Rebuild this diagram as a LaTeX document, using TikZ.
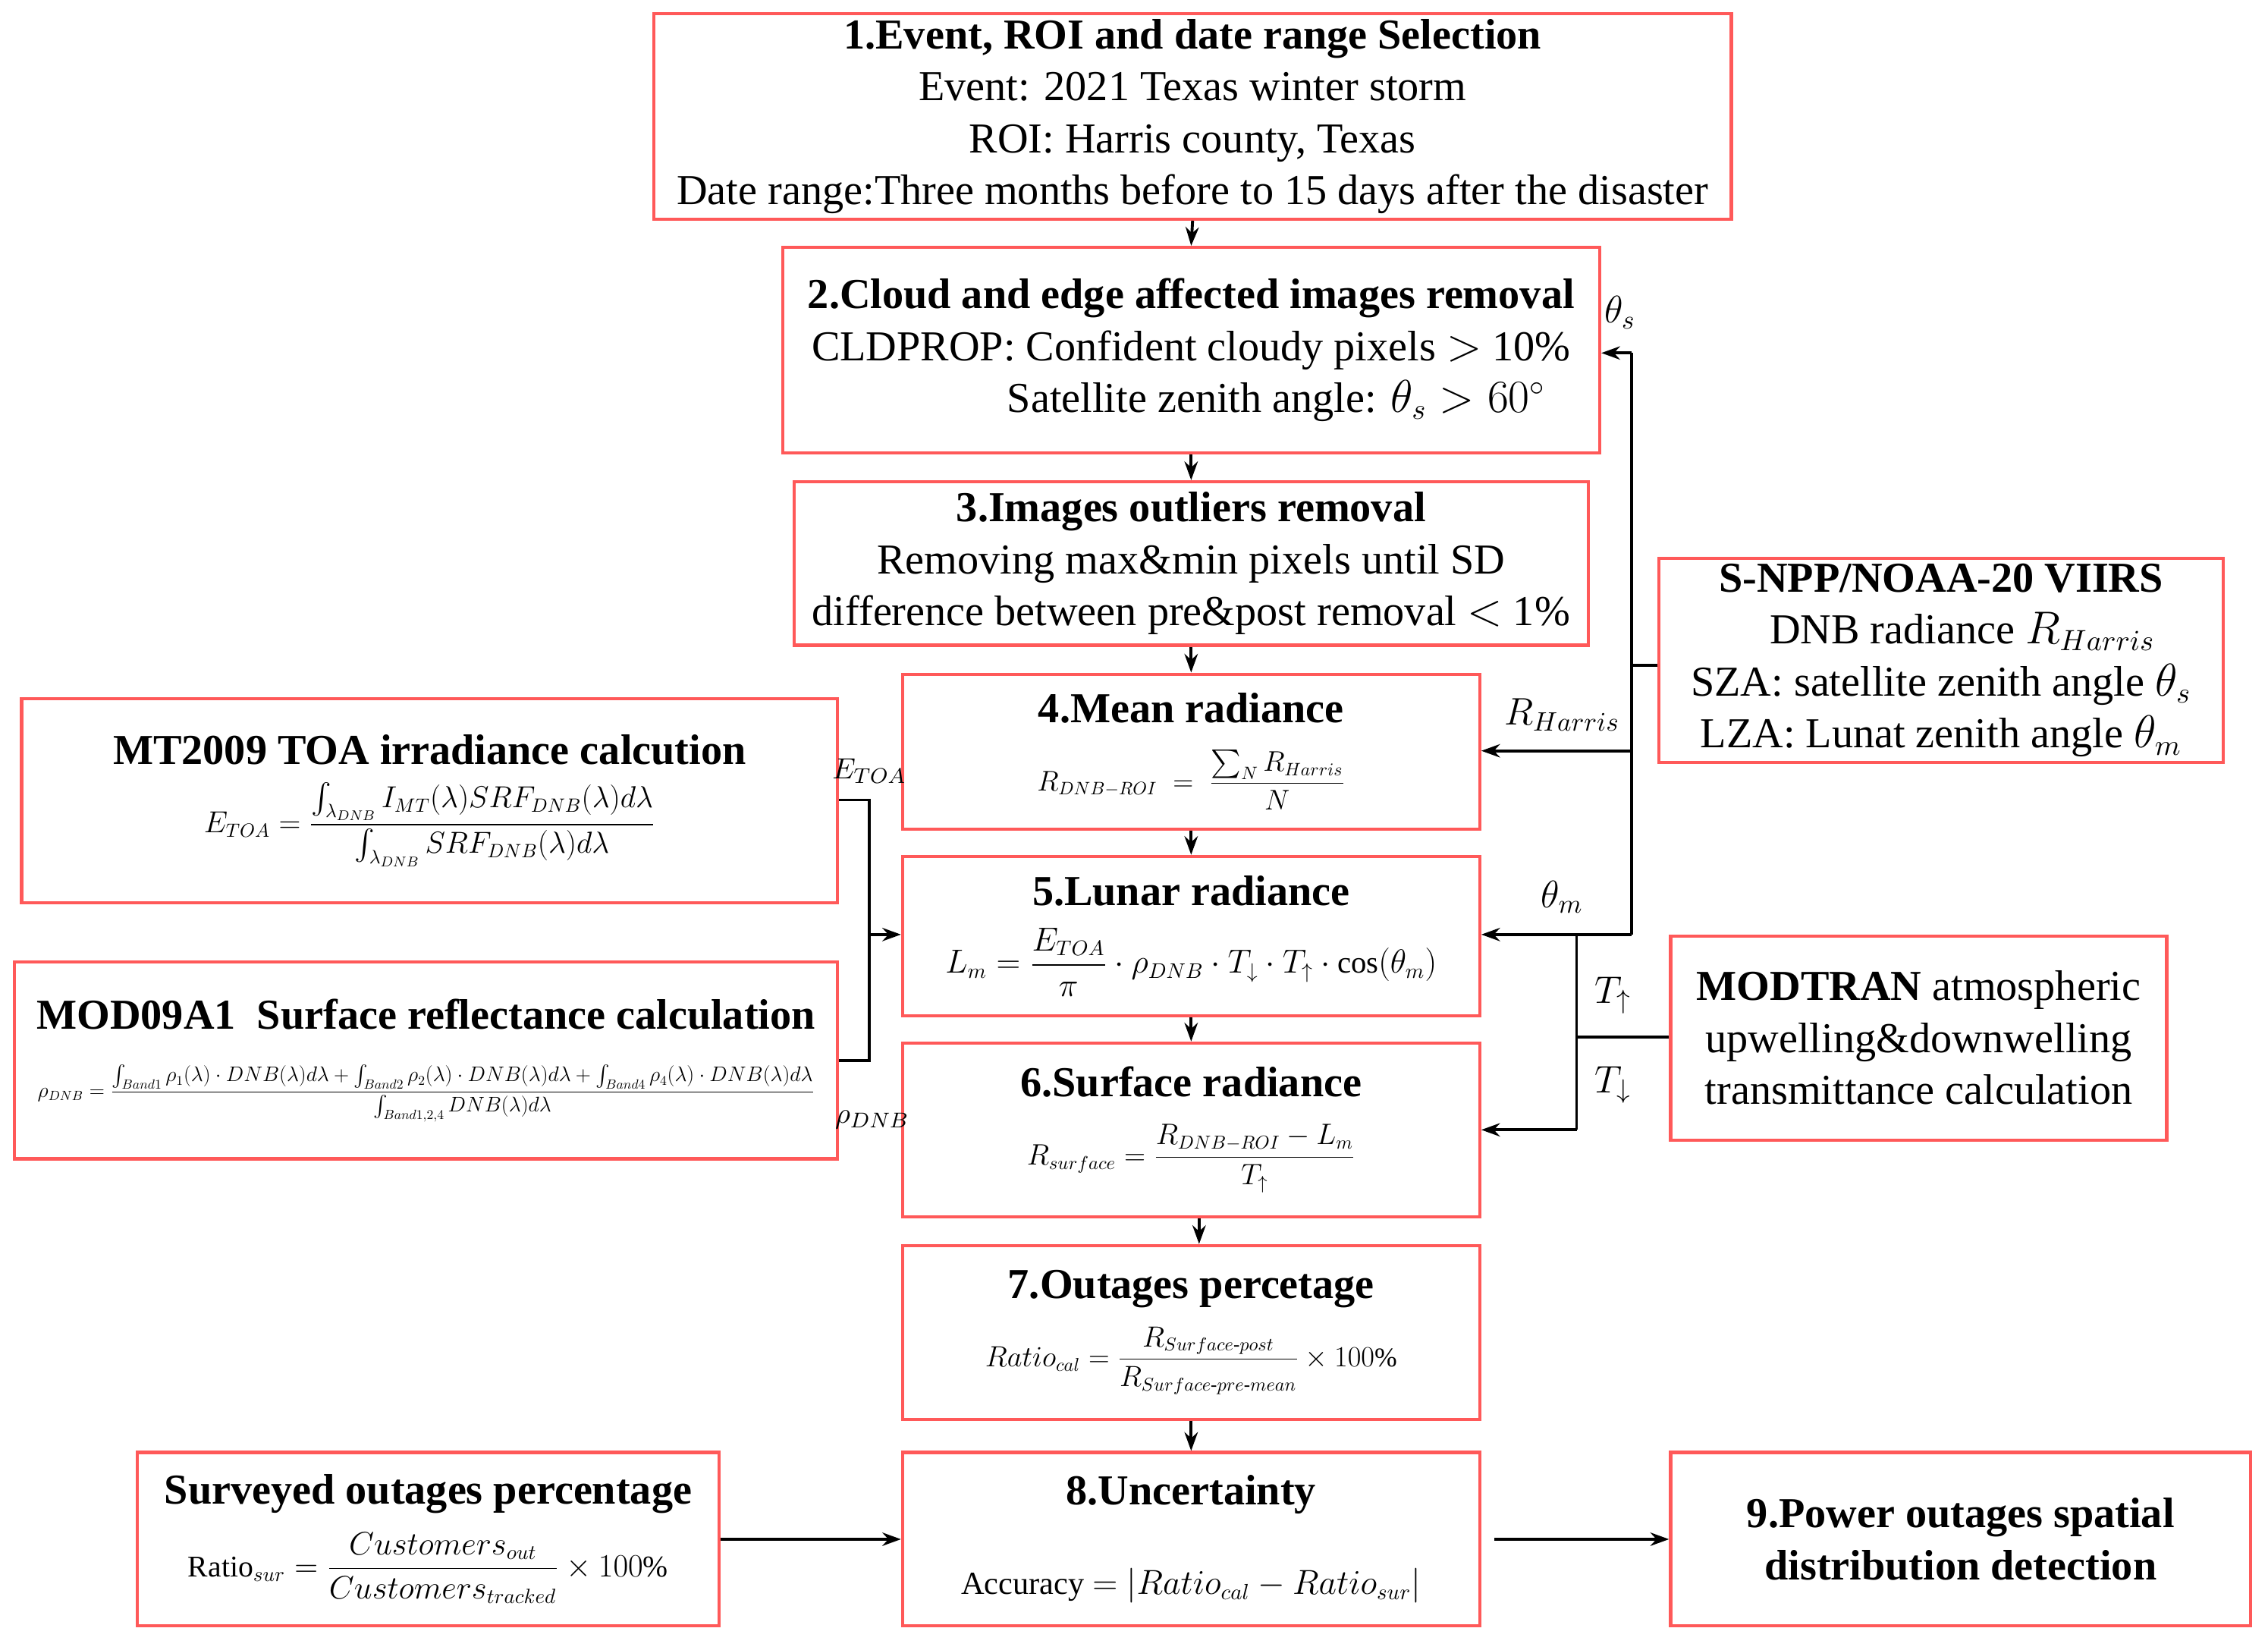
\documentclass[tikz,border=0pt]{standalone}
\usepackage{amsmath}
\usepackage{graphicx}
\usepackage{fontspec}
\setmainfont{Liberation Serif}
\usetikzlibrary{arrows.meta}
\newcommand\bx[6]{\node[box,minimum width={(#4-#2)*0.01907cm},minimum height={(#5-#3)*0.01907cm}] (#1) at ({(#2+#4)/2},{(#3+#5)/2}) {#6};}
\newcommand\fm[2]{\resizebox{#1cm}{!}{#2}}
\begin{document}
\begin{tikzpicture}[x=0.01907cm,y=-0.01907cm,
 box/.style={draw=red!65!white,line width=1.2pt,align=center,inner sep=2pt,font=\fontsize{16}{19.5}\selectfont},
 ar/.style={-{Stealth[length=7pt,width=5pt]},line width=1.1pt},
 ln/.style={line width=1.1pt},
 lab/.style={font=\fontsize{14}{16}\selectfont},
 slab/.style={font=\fontsize{11}{13}\selectfont}]
\useasboundingbox (0,0) rectangle (1568,1138);
\bx{b1}{452}{10}{1197}{151}{\textbf{1.Event, ROI and date range Selection}\\Event: 2021 Texas winter storm\\ROI: Harris county, Texas\\Date range:Three months before to 15 days after the disaster}
\bx{b2}{541}{171}{1106}{313}{\textbf{2.Cloud and edge affected images removal}\\CLDPROP: Confident cloudy pixels $>$ 10\%\\\hspace*{4em}Satellite zenith angle: $\theta_s>60^\circ$}
\bx{b3}{549}{333}{1098}{446}{\textbf{3.Images outliers removal}\\Removing max\&min pixels until SD\\difference between pre\&post removal $<$ 1\%}
\bx{b4}{624}{466}{1023}{573}{\textbf{4.Mean radiance}\\[6pt]\fm{4.06}{$R_{DNB-ROI}\;=\;\dfrac{\sum_N R_{Harris}}{N}$}}
\bx{b5}{624}{592}{1023}{702}{\textbf{5.Lunar radiance}\\[6pt]\fm{6.48}{$L_m=\dfrac{E_{TOA}}{\pi}\cdot\rho_{DNB}\cdot T_{\downarrow}\cdot T_{\uparrow}\cdot\cos(\theta_m)$}}
\bx{b6}{624}{721}{1023}{841}{\textbf{6.Surface radiance}\\[6pt]\fm{4.33}{$R_{surface}=\dfrac{R_{DNB-ROI}-L_m}{T_{\uparrow}}$}}
\bx{b7}{624}{861}{1023}{981}{\textbf{7.Outages percetage}\\[6pt]\fm{5.43}{$Ratio_{cal}=\dfrac{R_{Surface\text{-}post}}{R_{Surface\text{-}pre\text{-}mean}}\times100\%$}}
\bx{b8}{624}{1004}{1023}{1124}{\textbf{8.Uncertainty}\\[14pt]\fm{6.06}{Accuracy $=|Ratio_{cal}-Ratio_{sur}|$}}
\bx{b9}{1155}{1004}{1556}{1124}{\textbf{9.Power outages spatial}\\\textbf{distribution detection}}
\bx{bs}{95}{1004}{497}{1124}{\textbf{Surveyed outages percentage}\\[6pt]\fm{6.33}{Ratio$_{sur}=\dfrac{Customers_{out}}{Customers_{tracked}}\times100\%$}}
\bx{bm}{15}{483}{579}{624}{\textbf{MT2009 TOA irradiance calcution}\\[6pt]\fm{5.95}{$E_{TOA}=\dfrac{\int_{\lambda_{DNB}} I_{MT}(\lambda)SRF_{DNB}(\lambda)d\lambda}{\int_{\lambda_{DNB}} SRF_{DNB}(\lambda)d\lambda}$}}
\bx{bd}{10}{665}{579}{801}{\textbf{MOD09A1\ \ Surface reflectance calculation}\\[6pt]\fm{10.24}{$\rho_{DNB}=\dfrac{\int_{Band1}\rho_1(\lambda)\cdot DNB(\lambda)d\lambda+\int_{Band2}\rho_2(\lambda)\cdot DNB(\lambda)d\lambda+\int_{Band4}\rho_4(\lambda)\cdot DNB(\lambda)d\lambda}{\int_{Band1,2,4}DNB(\lambda)d\lambda}$}}
\bx{bv}{1147}{386}{1537}{527}{\textbf{S-NPP/NOAA-20 VIIRS}\\\hspace*{1em}DNB radiance $R_{Harris}$\\SZA: satellite zenith angle $\theta_s$\\LZA: Lunat zenith angle $\theta_m$}
\bx{bt}{1155}{647}{1498}{788}{\textbf{MODTRAN} atmospheric\\upwelling\&downwelling\\transmittance calculation}
% vertical chain
\foreach \a/\b in {b1/b2,b2/b3,b3/b4,b4/b5,b5/b6,b7/b8} \draw[ar] (\a.south) -- (\b.north);
\draw[ar] (b6.south -| 829,0) -- (b7.north -| 829,0);
% VIIRS
\coordinate (v1) at (1128,244); \coordinate (v2) at (1128,646);
\draw[ln] (bv.west |- 0,460) -- (1128,460);
\draw[ln] (v1) -- (v2);
\draw[ar] (v1) -- (b2.east |- v1);
\draw[ar] (1128,519) -- (b4.east |- 0,519);
\draw[ar] (v2) -- (b5.east |- v2);
\node[lab] at (1120,216) {$\theta_s$};
\node[lab] at (1080,494) {$R_{Harris}$};
\node[lab] at (1080,620) {$\theta_m$};
% MODTRAN
\coordinate (t1) at (1090,646); \coordinate (t2) at (1090,781);
\draw[ln] (bt.west |- 0,717) -- (1090,717);
\draw[ln] (t1) -- (t2);
\draw[ar] (t2) -- (b6.east |- t2);
\node[lab] at (1115,688) {$T_{\uparrow}$};
\node[lab] at (1115,750) {$T_{\downarrow}$};
% left
\coordinate (l1) at (601,553); \coordinate (l2) at (601,733);
\draw[ln] (bm.east |- l1) -- (l1) -- (l2) -- (bd.east |- l2);
\draw[ar] (601,646) -- (b5.west |- 0,646);
\node[slab] at (601,533) {$E_{TOA}$};
\node[slab] at (603,774) {$\rho_{DNB}$};
% bottom
\draw[ar] (bs.east) -- (b8.west);
\draw[ar] ([xshift=5pt]b8.east) -- (b9.west);
\end{tikzpicture}
\end{document}
